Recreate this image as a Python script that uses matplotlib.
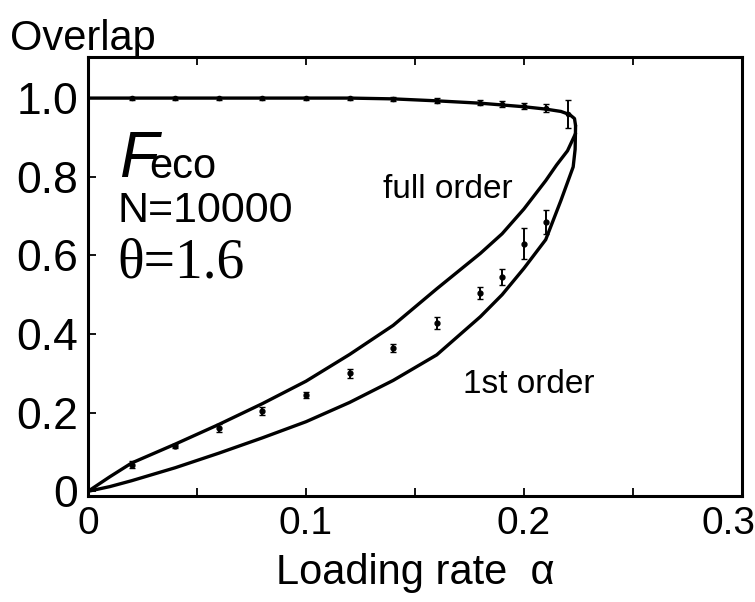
import matplotlib.pyplot as plt
from matplotlib.ticker import MultipleLocator
from matplotlib.transforms import ScaledTranslation

plt.rcParams['font.family'] = ['Liberation Sans', 'DejaVu Sans']

# Stable (retrieval) branch near overlap 1
alpha_top = [0.0, 0.10, 0.12, 0.14, 0.16, 0.18, 0.20, 0.21, 0.217, 0.221, 0.2232, 0.2237]
m_top = [1.0, 1.0, 1.0, 0.998, 0.993, 0.987, 0.978, 0.972, 0.966, 0.958, 0.948, 0.93]

# Theory: full order
alpha_full = [0.0, 0.01, 0.02, 0.04, 0.06, 0.08, 0.10, 0.12, 0.14, 0.16,
              0.18, 0.19, 0.20, 0.21, 0.215, 0.22, 0.2237]
m_full = [0.0, 0.037, 0.072, 0.120, 0.170, 0.223, 0.280, 0.348, 0.422, 0.515,
          0.605, 0.655, 0.718, 0.790, 0.830, 0.866, 0.91]

# Theory: 1st order
alpha_first = [0.0, 0.01, 0.02, 0.04, 0.06, 0.08, 0.10, 0.12, 0.14, 0.16,
               0.18, 0.19, 0.20, 0.21, 0.217, 0.2226, 0.2235, 0.2237]
m_first = [0.0, 0.012, 0.027, 0.060, 0.097, 0.136, 0.177, 0.226, 0.282, 0.347,
           0.444, 0.500, 0.567, 0.640, 0.740, 0.825, 0.870, 0.93]

# Simulation, upper branch
alpha_sim_top = [0.02, 0.04, 0.06, 0.08, 0.10, 0.12, 0.14, 0.16, 0.18, 0.19, 0.20, 0.21, 0.22]
m_sim_top = [1.0, 1.0, 1.0, 1.0, 1.0, 0.999, 0.997, 0.993, 0.988, 0.985, 0.980, 0.975, 0.960]
err_sim_top = [0.004, 0.004, 0.004, 0.004, 0.004, 0.005, 0.005, 0.006, 0.006, 0.007, 0.008, 0.010, 0.035]

# Simulation, lower branch
alpha_sim = [0.02, 0.04, 0.06, 0.08, 0.10, 0.12, 0.14, 0.16, 0.18, 0.19, 0.20, 0.21]
m_sim = [0.068, 0.115, 0.160, 0.205, 0.245, 0.300, 0.365, 0.428, 0.505, 0.545, 0.630, 0.685]
err_sim = [0.008, 0.005, 0.010, 0.010, 0.008, 0.012, 0.010, 0.015, 0.015, 0.020, 0.040, 0.030]

fig = plt.figure(figsize=(7.55, 6.02), dpi=100)
ax = fig.add_axes([0.1166, 0.176, 0.866, 0.729])

lw = 2.4
for xs, ys in [(alpha_top, m_top), (alpha_full, m_full), (alpha_first, m_first)]:
    ax.plot(xs, ys, color='black', lw=lw, solid_joinstyle='round', solid_capstyle='round')

ax.errorbar(alpha_sim_top, m_sim_top, yerr=err_sim_top, fmt='o', ms=3, color='black',
            ecolor='black', elinewidth=1.4, capsize=2.5)
ax.errorbar(alpha_sim, m_sim, yerr=err_sim, fmt='o', ms=3.5, color='black',
            ecolor='black', elinewidth=1.4, capsize=2.5)

ax.set_xlim(0, 0.3)
ax.set_ylim(-0.012, 1.104)
ax.set_xticks([0, 0.1, 0.2, 0.3])
ax.set_xticklabels(['0', '0.1', '0.2', '0.3'])
ax.set_yticks([0, 0.2, 0.4, 0.6, 0.8, 1.0])
ax.set_yticklabels(['0', '0.2', '0.4', '0.6', '0.8', '1.0'])
ax.xaxis.set_minor_locator(MultipleLocator(0.05))
ax.tick_params(direction='in', which='both', top=True, right=False,
               length=6, width=1.3)
ax.tick_params(axis='x', labelsize=28, pad=7)
ax.tick_params(axis='y', labelsize=32, pad=7)
for s in ax.spines.values():
    s.set_linewidth(2.2)

ax.set_xlabel('Loading rate  α', fontsize=30, labelpad=8)
fig.text(0.013, 0.917, 'Overlap', fontsize=30, ha='left', va='baseline')

ax.text(0.0143, 0.80, 'F', fontsize=46, style='italic', ha='left', va='baseline')
ax.text(0.028, 0.797, 'eco', fontsize=30, ha='left', va='baseline')
ax.text(0.0134, 0.685, 'N=10000', fontsize=31, ha='left', va='baseline')
ax.text(0.0134, 0.543, 'θ=1.6', fontsize=40, family='Liberation Serif', ha='left', va='baseline')
ax.text(0.1355, 0.746, 'full order', fontsize=24, ha='left', va='baseline')
ax.text(0.172, 0.251, '1st order', fontsize=24, ha='left', va='baseline')

# keep the last x label inside the canvas
fig.canvas.draw()
last = ax.xaxis.get_major_ticks()[-1].label1
last.set_transform(last.get_transform() + ScaledTranslation(-0.13, 0, fig.dpi_scale_trans))

fig.savefig('out.png', dpi=100)
